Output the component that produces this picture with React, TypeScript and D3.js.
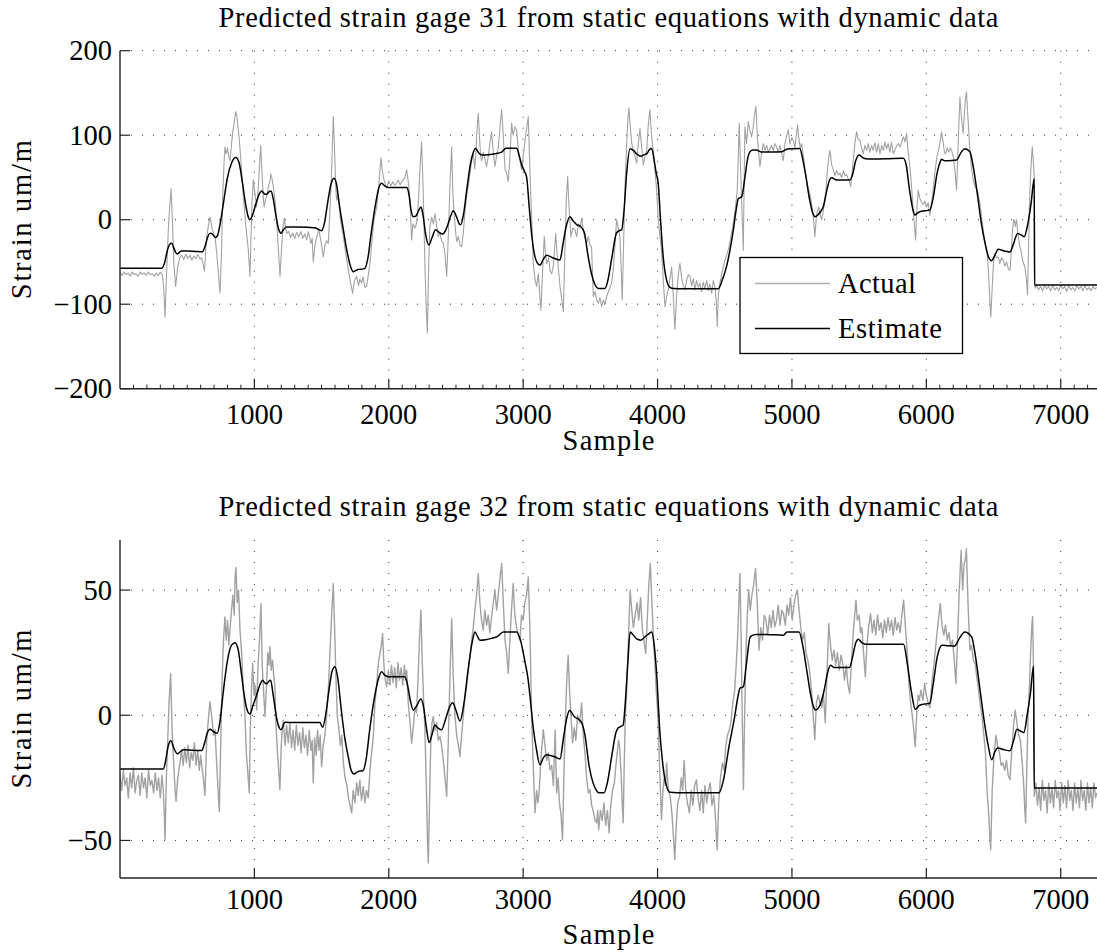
import React from "react";
import * as d3 from "d3";

// ---------- data ----------
const SAMPLE_DOMAIN: [number, number] = [0, 7270];
const X_TICKS = [1000, 2000, 3000, 4000, 5000, 6000, 7000];
const X_MINOR_TICKS = d3.range(100, 7270, 100).filter((v) => v % 1000 !== 0);

const TITLE_31 = "Predicted strain gage 31 from static equations with dynamic data";
const TITLE_32 = "Predicted strain gage 32 from static equations with dynamic data";
const Y_LABEL = "Strain um/m";
const X_LABEL = "Sample";
const LEGEND_LABELS = ["Actual", "Estimate"];

const Y_DOMAIN_31: [number, number] = [-200, 200];
const Y_TICKS_31 = [-200, -100, 0, 100, 200];
const Y_DOMAIN_32: [number, number] = [-65, 70];
const Y_TICKS_32 = [-50, 0, 50];

// gage 31 actual (sample, strain)
const ACTUAL_31: [number, number][] = [
[0,-63],[15,-66],[30,-62],[45,-65],[60,-63],[75,-67],[90,-62],[105,-65],[120,-64],[135,-67],[150,-62],[165,-65],[180,-63],[195,-66],[210,-62],[225,-65],[240,-64],[255,-67],[270,-63],[285,-66],[300,-62],[315,-65],
[325,-80],[335,-115],[345,-70],[360,-10],[372,20],[380,37],[390,0],[400,-50],[414,-79],[430,-55],[447,-44],
[460,-42],[475,-47],[490,-41],[505,-46],[520,-42],[535,-48],[550,-43],[565,-46],[580,-41],[595,-47],[608,-45],
[628,-61],[645,-20],[660,-5],[670,3],[685,-10],[700,-18],[707,-20],[720,-40],[735,-70],[744,-87],[755,-40],[765,30],[775,70],[781,86],[790,78],[800,85],[810,74],[819,70],[830,90],[840,105],[850,115],[861,128],[870,122],[878,110],[886,98],[900,70],[918,27],[935,-5],[955,-36],[967,-67],[975,-20],[982,20],[992,47],[1005,30],[1017,15],[1030,40],[1040,70],[1047,88],[1055,60],[1065,30],[1072,15],[1085,25],[1095,30],[1104,39],[1115,45],[1122,54],[1129,50],[1140,40],[1153,23],[1165,0],[1180,-40],[1191,-67],[1200,-40],[1212,-10],[1223,2],[1232,-10],[1240,-16],
[1255,-14],[1270,-21],[1285,-16],[1300,-22],[1315,-15],[1330,-20],[1345,-14],[1360,-22],[1375,-17],[1390,-24],[1400,-14],[1410,-20],[1420,-28],[1430,-22],[1438,-50],[1451,-30],[1465,-20],[1480,-12],[1495,-25],[1505,-36],[1513,-44],[1525,-30],[1538,-25],[1550,-28],[1562,10],[1575,60],[1587,122],[1595,90],[1605,40],[1612,23],[1625,30],[1640,0],[1662,-20],[1680,-40],[1695,-55],[1711,-71],[1722,-80],[1731,-87],[1745,-72],[1761,-67],[1775,-78],[1785,-70],[1798,-75],[1810,-68],[1822,-80],[1835,-79],[1848,-65],[1860,-52],[1875,-25],[1890,0],[1910,15],[1925,40],[1935,60],[1942,73],[1950,60],[1960,50],[1972,43],
[1985,38],[2000,46],[2015,40],[2030,45],[2045,41],[2058,43],[2070,47],[2085,41],[2095,45],[2108,47],[2120,50],[2133,59],[2145,45],[2158,23],[2170,-24],[2180,-5],[2195,-10],[2207,-4],[2220,20],[2232,60],[2244,92],[2255,40],[2262,-4],[2270,-60],[2280,-110],[2287,-134],[2296,-60],[2305,-10],[2319,3],[2332,-5],[2344,7],[2355,-5],[2368,-20],[2380,-15],[2393,-25],[2406,-28],[2418,-40],[2431,-67],[2443,-20],[2455,40],[2468,86],[2477,30],[2485,11],[2495,-10],[2505,-26],[2518,-20],[2530,-30],[2542,-32],[2555,-15],[2567,10],[2579,27],[2592,40],[2605,55],[2617,70],[2629,78],[2640,60],[2650,85],[2658,110],[2666,126],[2676,95],[2684,75],[2691,70],[2703,80],[2715,72],[2728,63],[2740,75],[2752,90],[2765,104],[2778,80],[2790,63],[2802,75],[2815,85],[2828,110],[2840,130],[2852,100],[2865,60],[2877,55],[2889,45],[2900,70],[2914,114],[2925,100],[2937,110],[2951,106],[2963,85],[2975,70],[2989,59],[3000,75],[3015,95],[3028,110],[3038,122],[3048,70],[3058,23],[3067,-15],[3075,-52],[3088,-70],[3100,-79],[3113,-64],[3122,-85],[3132,-107],[3145,-60],[3157,-20],[3166,-40],[3175,-52],[3190,-45],[3200,-60],[3212,-64],[3225,-55],[3242,-16],[3252,-40],[3261,-56],[3275,-80],[3288,-95],[3299,-109],[3310,-40],[3320,20],[3331,51],[3343,10],[3356,-20],[3370,-10],[3385,-12],[3398,-20],[3410,-5],[3423,-10],[3435,2],[3448,-15],[3460,-22],[3472,-28],[3485,-20],[3497,-30],[3509,-32],[3515,-60],[3522,-91],[3535,-85],[3547,-95],[3559,-99],[3571,-92],[3584,-103],[3596,-95],[3609,-100],[3621,-91],[3635,-85],[3647,-80],[3658,-75],[3670,-60],[3683,-30],[3695,0],[3708,-10],[3720,-20],[3730,-60],[3737,-95],[3747,-30],[3757,35],[3770,90],[3780,120],[3787,132],[3797,110],[3808,90],[3819,82],[3832,75],[3844,67],[3857,90],[3869,108],[3882,85],[3894,65],[3906,75],[3919,82],[3930,110],[3943,130],[3955,100],[3968,82],[3980,60],[3993,35],[4005,0],[4018,-20],[4030,-36],[4042,-70],[4055,-103],[4068,-90],[4080,-83],[4092,-70],[4105,-56],[4117,-90],[4129,-130],[4140,-95],[4149,-75],[4158,-60],[4167,-52],[4180,-70],[4192,-78],[4204,-83],[4216,-72],[4229,-65],[4241,-67],[4254,-78],[4266,-70],[4278,-83],[4290,-72],[4303,-80],[4315,-75],[4328,-85],[4340,-74],[4353,-82],[4365,-72],[4378,-84],[4390,-76],[4403,-87],[4415,-72],[4428,-80],[4436,-95],[4444,-126],[4452,-90],[4464,-75],[4476,-65],[4489,-56],[4501,-48],[4514,-42],[4526,-36],[4540,-25],[4552,-15],[4564,-4],[4576,10],[4587,25],[4593,35],[4600,70],[4608,114],[4616,70],[4626,20],[4633,-10],[4638,-36],[4644,40],[4650,110],[4662,90],[4675,116],[4688,105],[4700,98],[4712,110],[4722,125],[4732,134],[4742,100],[4752,80],[4762,63],[4775,80],[4787,90],[4800,82],[4812,88],[4824,80],[4836,84],[4848,88],[4861,82],[4874,90],[4886,86],[4898,80],[4911,88],[4924,78],[4936,70],[4948,90],[4961,100],[4973,106],[4985,90],[4998,97],[5010,94],[5022,85],[5033,100],[5042,112],[5052,95],[5062,85],[5072,90],[5085,75],[5097,60],[5109,47],[5121,38],[5134,30],[5146,19],[5158,5],[5171,-20],[5180,0],[5188,10],[5200,15],[5212,5],[5221,0],[5233,10],[5244,22],[5253,35],[5265,60],[5275,75],[5283,82],[5295,65],[5308,59],[5320,52],[5333,58],[5345,53],[5357,55],[5370,50],[5382,58],[5395,52],[5407,53],[5420,48],[5430,44],[5437,39],[5447,55],[5456,70],[5468,90],[5481,104],[5493,95],[5506,94],[5518,85],[5531,78],[5543,88],[5556,82],[5568,90],[5580,80],[5593,88],[5605,82],[5618,91],[5630,80],[5643,90],[5655,78],[5668,88],[5680,82],[5692,92],[5704,84],[5716,90],[5729,80],[5741,92],[5754,78],[5766,82],[5780,88],[5792,90],[5804,86],[5816,92],[5830,98],[5841,92],[5853,102],[5865,80],[5878,63],[5890,40],[5902,11],[5911,-5],[5920,-24],[5930,15],[5940,35],[5952,25],[5964,21],[5977,18],[5989,22],[6002,15],[6014,20],[6026,5],[6038,20],[6051,35],[6063,55],[6075,70],[6083,78],[6095,85],[6105,95],[6113,104],[6125,92],[6135,80],[6143,78],[6155,85],[6168,80],[6178,85],[6188,82],[6200,75],[6212,60],[6225,35],[6237,90],[6250,145],[6262,120],[6274,102],[6285,130],[6292,145],[6299,151],[6310,120],[6324,82],[6337,60],[6349,47],[6361,40],[6374,36],[6386,31],[6398,20],[6410,5],[6423,-12],[6435,-25],[6445,-35],[6455,-44],[6465,-70],[6472,-95],[6480,-115],[6490,-80],[6500,-50],[6510,-40],[6522,-45],[6535,-44],[6547,-52],[6560,-45],[6572,-48],[6584,-55],[6597,-50],[6610,-58],[6622,-60],[6632,-40],[6640,-15],[6648,0],[6654,0],[6662,-8],[6671,0],[6684,-20],[6696,-32],[6708,-40],[6720,-50],[6733,-56],[6745,-70],[6753,-89],[6760,-40],[6766,10],[6771,35],[6778,60],[6788,86],[6796,70],[6803,51],[6806,-20],[6808,-81],
[6820,-78],[6835,-83],[6850,-79],[6865,-84],[6880,-78],[6895,-82],[6910,-79],[6925,-84],[6940,-78],[6955,-83],[6970,-80],[6985,-84],[7000,-78],[7015,-82],[7030,-79],[7045,-85],[7060,-78],[7075,-83],[7090,-80],[7105,-84],[7120,-78],[7135,-82],[7150,-79],[7165,-84],[7180,-78],[7195,-83],[7210,-80],[7225,-84],[7240,-79],[7255,-82],[7268,-80]
];

// gage 31 estimate
const ESTIMATE_31: [number, number][] = [
[0,-57.5],[310,-57.5],[330,-52],[350,-38],[370,-29],[385,-28],[400,-33],[415,-39],[429,-40.5],[445,-38],[460,-37],[500,-37],[560,-37.5],[613,-38],[630,-33],[650,-22],[665,-16.5],[677,-16],[695,-18.5],[710,-21],[725,-19],[745,-5],[770,20],[800,50],[830,67],[861,73.5],[885,68],[910,45],[935,18],[955,3],[967,0],[985,5],[1010,18],[1035,30],[1054,34],[1072,31],[1091,30],[1108,33],[1124,34],[1140,25],[1160,5],[1180,-11],[1198,-16],[1215,-12],[1240,-8.5],[1300,-8.5],[1400,-9],[1451,-9.5],[1470,-11],[1500,-13],[1520,-5],[1545,20],[1570,42],[1592,49],[1610,43],[1630,20],[1660,-10],[1690,-38],[1715,-55],[1736,-61.5],[1755,-60],[1773,-58.8],[1800,-58.5],[1823,-57.5],[1845,-45],[1870,-15],[1900,17],[1925,37],[1947,43],[1970,40],[1997,38],[2060,38],[2133,38],[2150,30],[2165,12],[2183,3.5],[2200,4],[2225,12],[2240,15],[2255,5],[2275,-18],[2299,-30],[2320,-22],[2349,-12],[2375,-15],[2401,-17],[2430,-10],[2460,4],[2480,10.5],[2505,3],[2525,-5],[2535,-6],[2555,5],[2580,35],[2610,68],[2630,80],[2646,84.5],[2665,80],[2691,76.5],[2740,77],[2790,78],[2840,80],[2872,84.5],[2910,84.5],[2951,84.5],[2970,76],[2989,65],[3010,57],[3026,50],[3045,15],[3065,-20],[3088,-44],[3105,-51],[3125,-53.7],[3150,-47],[3175,-42],[3220,-45],[3274,-47.7],[3295,-30],[3320,-8],[3348,3.6],[3375,-2],[3400,-6],[3423,-7.5],[3455,-15],[3480,-40],[3510,-65],[3535,-77],[3559,-81.3],[3609,-81.3],[3630,-72],[3660,-45],[3695,-15.4],[3715,-13],[3733,-12],[3750,10],[3770,55],[3795,84],[3820,82],[3850,77],[3876,75.3],[3900,77],[3919,78],[3940,83],[3956,84.4],[3975,70],[3990,55],[4005,43],[4020,5],[4042,-44],[4065,-70],[4092,-80],[4120,-81.5],[4200,-81.7],[4300,-81.7],[4452,-81.7],[4480,-72],[4514,-55],[4540,-35],[4564,-12],[4585,12],[4601,25],[4626,27],[4650,50],[4670,72],[4688,80.5],[4710,82.5],[4737,82.4],[4774,80],[4850,80],[4923,80.5],[4945,82],[4965,83.6],[5000,84],[5059,84.4],[5080,72],[5105,50],[5130,25],[5155,8],[5171,3.5],[5195,6],[5215,10],[5233,15.4],[5260,35],[5280,47],[5295,49.7],[5332,47],[5431,47],[5450,53],[5475,70],[5501,76.5],[5530,73],[5568,71.8],[5700,72],[5828,72.6],[5850,65],[5875,35],[5900,12],[5915,5.5],[5935,8],[5952,9.5],[5990,10.5],[6026,11.4],[6050,25],[6080,55],[6100,67],[6113,71.4],[6138,69.8],[6190,70],[6225,70.6],[6260,80],[6287,84],[6324,80.5],[6350,62],[6380,30],[6410,-5],[6440,-30],[6465,-45],[6485,-48.5],[6510,-42],[6535,-35.1],[6580,-37],[6622,-38.3],[6650,-28],[6679,-16.2],[6705,-18],[6728,-20.1],[6755,-5],[6780,20],[6803,48.9],[6805,-77.3],[7270,-77.3]
];

// gage 32 actual
const ACTUAL_32: [number, number][] = [
[0,-24],[12,-30],[25,-22],[37,-28],[50,-25],[62,-33],[75,-23],[87,-29],[100,-21],[112,-31],[125,-26],[137,-24],[150,-32],[162,-23],[175,-29],[187,-25],[200,-33],[212,-22],[225,-28],[237,-26],[250,-31],[262,-23],[275,-30],[287,-25],[300,-33],[312,-24],[322,-30],
[330,-40],[335,-49.7],[345,-25],[355,-10],[365,5],[377,16.7],[387,-5],[400,-20],[410,-30],[417,-34.4],[430,-25],[446,-19],
[458,-14],[470,-20],[482,-13],[494,-19],[506,-12],[518,-21],[530,-15],[542,-18],[554,-11],[566,-20],[578,-14],[590,-22],[600,-16],[608,-20],[620,-25],[632,-32],[645,-10],[660,0],[670,5.4],[685,-2],[697,-8],[707,-5.8],[720,-20],[730,-30],[739,-38.4],[750,-10],[760,15],[770,30],[781,39.3],[790,30],[800,38],[810,28],[818,34],[830,42],[840,48],[850,40],[856,55],[863,59],[872,45],[882,50],[893,34],[905,25],[918,10],[930,-0.5],[940,-15],[950,-22],[962,-31],[970,-5],[978,10],[987,20.7],[997,8],[1007,12],[1017,2.1],[1027,20],[1038,30],[1049,44.6],[1058,20],[1068,10],[1079,-0.5],[1090,12],[1100,25],[1108,20],[1116,27.4],[1125,18],[1135,22],[1145,15],[1153,11.4],[1162,-5],[1172,-15],[1181,-22],[1190,-29.7],[1200,-12],[1208,-5],[1215,-2],
[1228,-12],[1240,-4],[1252,-11],[1264,-3],[1276,-13],[1288,-6],[1300,-14],[1312,-4],[1324,-12],[1336,-7],[1348,-15],[1360,-5],[1372,-13],[1384,-8],[1396,-16],[1408,-6],[1420,-14],[1430,-10],[1438,-27],[1448,-9],[1460,-16],[1470,-6],[1480,-14],[1490,-8],[1500,-20.5],[1512,-12],[1525,-8],[1537,-0.5],[1550,10],[1562,25],[1575,40],[1587,52.6],[1597,35],[1607,15],[1617,-0.5],[1628,-5],[1640,-12],[1650,-8],[1662,-19],[1675,-25],[1688,-28],[1700,-33],[1712,-36],[1724,-39],[1735,-30],[1748,-35],[1761,-27],[1773,-32],[1785,-26],[1797,-34],[1810,-28.4],[1822,-35],[1834,-30],[1847,-33],[1860,-22],[1872,-15],[1885,-8.5],[1897,5],[1910,12],[1922,20.7],[1935,25],[1945,28],[1954,32.7],[1964,20],[1974,14],[1984,11.4],
[1996,18],[2008,12],[2020,20],[2032,13],[2044,19],[2056,11],[2068,21],[2080,14],[2092,19],[2104,12],[2116,20],[2126,14],[2133,18],[2145,5],[2158,-3],[2170,-11.2],[2182,-5],[2195,3],[2207,1],[2218,15],[2228,30],[2239,42],[2250,20],[2260,5],[2269,-5.8],[2280,-30],[2288,-50],[2294,-59],[2303,-35],[2313,-10],[2322,-3],[2331,-0.5],[2343,-6],[2356,-3],[2368,-10],[2381,-8.5],[2393,-12],[2406,-18],[2418,-25],[2431,-32.4],[2443,-10],[2455,15],[2468,38.6],[2480,15],[2493,-0.5],[2505,-8],[2518,-12],[2530,-16.5],[2542,-8],[2555,0],[2567,7.5],[2580,12],[2592,18],[2604,23.4],[2617,30],[2629,35],[2641,42],[2653,48],[2666,56.6],[2678,45],[2690,38],[2703,34],[2715,42],[2728,36],[2740,40],[2752,33],[2765,39.3],[2778,45],[2790,50],[2802,42],[2815,48],[2828,55],[2840,60.6],[2852,45],[2865,30],[2877,25],[2889,16.7],[2901,30],[2913,42],[2926,52.6],[2938,40],[2951,35],[2963,32],[2976,30],[2988,40],[3000,38],[3013,45],[3025,48],[3038,55.2],[3050,35],[3063,-0.5],[3075,-20],[3088,-39],[3100,-30],[3110,-35],[3120,-29.7],[3135,-15],[3150,-5.8],[3162,-12],[3175,-18],[3187,-15],[3199,-21.8],[3212,-20],[3225,-28],[3238,-6],[3249,-31],[3260,-25],[3270,-35],[3282,-40],[3293,-49.7],[3305,-20],[3315,0],[3325,15],[3335,24],[3345,10],[3355,0],[3368,-11],[3380,-5],[3392,-10],[3405,0],[3420,-3],[3435,4.8],[3447,-8],[3460,-15],[3472,-25],[3485,-31],[3497,-29.7],[3510,-36],[3524,-39],[3535,-42],[3546,-43],[3555,-38],[3562,-45.7],[3575,-38],[3588,-42],[3601,-35],[3614,-44],[3627,-38],[3640,-47],[3652,-36],[3665,-30],[3679,-27],[3690,-20],[3700,-15],[3710,-10],[3718,-13],[3730,-25],[3737,-35],[3744,-43],[3752,-20],[3760,-0.5],[3770,10],[3783,30],[3796,50],[3808,42],[3820,35],[3835,40.6],[3848,45],[3860,38],[3874,47],[3886,35],[3898,30],[3912,24.7],[3925,40],[3935,52],[3946,60.6],[3958,45],[3970,30],[3977,24],[3990,10],[4003,-0.5],[4015,-20],[4029,-41.7],[4040,-30],[4050,-25],[4060,-28],[4068,-19],[4080,-30],[4094,-32.4],[4108,-40],[4120,-50],[4128,-57.6],[4138,-45],[4150,-35],[4164,-32.4],[4176,-25],[4187,-30],[4198,-18],[4210,-30],[4222,-35],[4237,-39],[4250,-30],[4263,-36],[4276,-28],[4289,-25.8],[4302,-33],[4315,-38],[4328,-30],[4340,-39],[4353,-28],[4366,-35],[4379,-30],[4392,-27],[4405,-36],[4418,-32],[4430,-40],[4438,-48],[4444,-53.7],[4455,-35],[4468,-25],[4483,-19],[4495,-22],[4508,-12],[4520,-8],[4535,-5.8],[4548,-2],[4560,5],[4574,10],[4585,20],[4595,30],[4605,45],[4613,56.6],[4622,30],[4630,0],[4639,-29.7],[4648,0],[4658,25],[4668,40],[4678,50],[4690,42],[4702,48],[4715,52],[4729,58.6],[4742,45],[4755,26],[4768,35],[4781,30],[4794,40],[4807,38],[4820,32],[4833,40],[4846,35],[4859,42],[4872,35.3],[4885,38],[4898,44],[4911,36],[4924,42],[4937,40.6],[4950,36],[4963,44],[4976,40],[4989,47],[5002,38],[5015,44],[5028,48],[5040,50],[5053,42],[5066,35],[5079,30],[5092,33],[5105,25],[5118,22],[5131,18],[5145,10],[5158,0],[5170,-9.8],[5182,5],[5195,8],[5209,5],[5222,3],[5235,8],[5248,-3],[5260,15],[5274,36.7],[5287,28],[5300,22],[5313,26],[5326,20],[5339,25],[5352,18],[5365,24],[5378,20.7],[5391,14],[5404,20],[5417,12],[5429,8.8],[5442,20],[5455,32],[5467,40],[5476,46],[5487,38],[5500,40],[5511,33],[5520,35],[5533,25],[5546,15.4],[5558,28],[5570,35],[5585,40.6],[5598,33],[5611,38],[5624,32],[5637,40],[5650,34],[5663,37],[5676,31],[5689,38],[5702,33],[5715,39],[5728,34],[5741,38],[5754,32],[5767,39],[5780,34],[5792,37],[5805,33],[5818,40],[5831,46],[5845,35],[5858,25],[5870,13],[5883,5],[5895,0],[5905,-5],[5917,-12.6],[5930,2],[5940,8],[5948,6],[5960,10],[5975,6],[5987,12.7],[6000,8],[6013,5],[6026,3],[6040,12],[6052,18],[6065,25],[6078,32],[6090,38],[6104,44.6],[6117,36],[6130,32],[6143,36],[6156,30],[6168,33],[6180,28],[6195,30],[6208,22],[6220,12.7],[6232,30],[6245,50],[6259,65.9],[6270,50],[6280,60],[6290,62],[6298,66.5],[6310,45],[6324,26],[6337,28],[6350,22],[6363,20.7],[6376,15],[6389,10],[6402,4],[6415,-0.5],[6428,-8],[6440,-15],[6453,-31],[6465,-40],[6472,-48],[6479,-53.7],[6490,-30],[6505,-15],[6518,-8],[6530,-12],[6544,-15],[6557,-20],[6570,-19],[6583,-22],[6596,-18],[6609,-24],[6622,-25.8],[6635,-15],[6648,-5],[6661,2.1],[6674,-3],[6687,-8],[6700,-10],[6712,-18],[6725,-28],[6733,-38],[6739,-43],[6748,-20],[6757,-0.5],[6766,10],[6776,25],[6784,35],[6791,39.4],[6797,20],[6803,-32.4],
[6815,-27],[6827,-36],[6839,-29],[6851,-38],[6863,-26],[6875,-34],[6887,-30],[6899,-39],[6911,-27],[6923,-35],[6935,-29],[6947,-37],[6959,-26],[6971,-33],[6983,-30],[6995,-38],[7007,-27],[7019,-35],[7031,-28],[7043,-37],[7055,-26],[7067,-34],[7079,-30],[7091,-38],[7103,-27],[7115,-35],[7127,-29],[7139,-37],[7151,-26],[7163,-34],[7175,-30],[7187,-38],[7199,-27],[7211,-35],[7223,-29],[7235,-37],[7247,-27],[7259,-33],[7268,-31]
];

// gage 32 estimate
const ESTIMATE_32: [number, number][] = [
[0,-21.5],[322,-21.5],[340,-18],[360,-12],[379,-10.2],[400,-13],[427,-15.4],[450,-14.5],[471,-13.8],[540,-14],[608,-14.1],[630,-11],[650,-7],[670,-5.6],[695,-6.5],[724,-7.2],[745,-2],[770,10],[800,22],[830,28],[856,29],[880,26],[905,16],[930,6],[950,1.5],[967,0.5],[990,4],[1017,8.1],[1040,12],[1061,14],[1076,13],[1091,12.5],[1106,13.5],[1121,14],[1140,8],[1165,-1],[1185,-5],[1198,-5.8],[1228,-2.8],[1300,-2.9],[1400,-2.9],[1488,-2.9],[1508,-4.8],[1530,0],[1555,10],[1580,18],[1600,19.4],[1620,15],[1645,3],[1670,-8],[1700,-17],[1720,-22],[1741,-23.5],[1770,-22.5],[1810,-22],[1830,-18],[1860,-5],[1890,6],[1920,14],[1947,17.4],[1970,16],[1996,15.4],[2060,15.4],[2120,15.4],[2140,12],[2160,6],[2182,2.1],[2210,4],[2239,6.5],[2260,3],[2280,-5],[2301,-10.9],[2320,-8],[2343,-3.9],[2365,-5],[2393,-5.8],[2420,-2],[2450,3],[2475,5],[2500,2],[2530,-2.3],[2560,5],[2590,18],[2620,29],[2641,33.3],[2660,31.5],[2678,30],[2720,30.2],[2765,30.7],[2810,31.5],[2852,33.3],[2951,33.3],[2980,30],[3013,21.4],[3035,15],[3050,8],[3075,-5],[3100,-14],[3125,-19.8],[3150,-17],[3174,-15.8],[3230,-16.5],[3274,-17.5],[3300,-9],[3325,-1],[3345,1.9],[3380,-0.5],[3430,-2.5],[3460,-8],[3490,-20],[3520,-27],[3545,-30],[3562,-31],[3601,-31],[3630,-26],[3660,-16],[3690,-7],[3705,-5.2],[3725,-4.5],[3744,-3.9],[3760,5],[3780,22],[3796,33.3],[3820,32],[3845,30.5],[3874,30],[3910,31.5],[3935,32.5],[3956,33.3],[3975,28],[3995,15],[4015,-5],[4040,-20],[4065,-28],[4094,-30.8],[4200,-31],[4457,-31],[4490,-26],[4530,-13],[4574,-0.5],[4600,8],[4613,10.8],[4639,11.4],[4660,20],[4690,31.3],[4729,32.3],[4830,32.2],[4937,32],[4963,33.3],[5053,33.3],[5080,28],[5110,18],[5140,8],[5160,3.5],[5175,2.1],[5209,4.1],[5240,10],[5265,17],[5287,20],[5313,19.1],[5429,19.1],[5450,23],[5475,29],[5494,30.4],[5520,29],[5546,28.4],[5700,28.4],[5831,28.4],[5860,20],[5890,9],[5917,2.4],[5950,4],[5987,4.5],[6026,4.8],[6050,12],[6080,23],[6117,28],[6160,27.8],[6207,27.6],[6250,31],[6285,33.3],[6337,31.3],[6370,22],[6400,10],[6430,-2],[6460,-12],[6487,-17.8],[6510,-14.5],[6531,-13.1],[6580,-13.8],[6622,-14.2],[6650,-10],[6674,-5.6],[6700,-6.3],[6726,-6.9],[6750,0],[6775,9],[6798,19.7],[6803,-29.1],[7270,-29.1]
];

// ---------- rendering ----------
const W = 1097;
const H = 952;
const LEFT = 120;
const RIGHT = 1097;
const FONT = "'Liberation Serif', 'Times New Roman', serif";
const FS = 28.5;
const GRAY = "#a2a2a2";

const fmt = (v: number) => (v < 0 ? "\u2212" + Math.abs(v) : String(v));

type PanelProps = {
  id: string;
  top: number;
  bottom: number;
  yDomain: [number, number];
  yTicks: number[];
  title: string;
  titleY: number;
  tickLabelY: number;
  xLabelY: number;
  actual: [number, number][];
  estimate: [number, number][];
  actualWidth: number;
  minorTicks: boolean;
  legend: boolean;
};

function Panel(p: PanelProps) {
  const x = d3.scaleLinear().domain(SAMPLE_DOMAIN).range([LEFT, RIGHT]);
  const y = d3.scaleLinear().domain(p.yDomain).range([p.bottom, p.top]);
  const actualLine = d3
    .line<[number, number]>()
    .x((d) => x(d[0]))
    .y((d) => y(d[1]));
  const estLine = d3
    .line<[number, number]>()
    .x((d) => x(d[0]))
    .y((d) => y(d[1]))
    .curve(d3.curveMonotoneX);
  const clipId = "clip-" + p.id;
  const gridDash = "1 10";
  return (
    <g>
      <defs>
        <clipPath id={clipId}>
          <rect x={LEFT} y={p.top} width={RIGHT - LEFT} height={p.bottom - p.top} />
        </clipPath>
      </defs>
      {/* grid */}
      {X_TICKS.map((t) => (
        <line key={"gx" + t} x1={x(t)} x2={x(t)} y1={p.top} y2={p.bottom}
          stroke="#333" strokeWidth={1} strokeDasharray={gridDash} />
      ))}
      {p.yTicks.filter((t) => y(t) < p.bottom - 1).map((t) => (
        <line key={"gy" + t} x1={LEFT} x2={RIGHT} y1={y(t)} y2={y(t)}
          stroke="#333" strokeWidth={1} strokeDasharray={gridDash} />
      ))}
      {/* data */}
      <g clipPath={`url(#${clipId})`}>
        <path d={actualLine(p.actual) || ""} fill="none" stroke={GRAY} strokeWidth={p.actualWidth} strokeLinejoin="round" />
        <path d={estLine(p.estimate) || ""} fill="none" stroke="#000" strokeWidth={1.5} />
      </g>
      {/* axes */}
      <line x1={LEFT} x2={LEFT} y1={p.top} y2={p.bottom} stroke="#222" strokeWidth={1.4} />
      <line x1={LEFT} x2={RIGHT} y1={p.bottom} y2={p.bottom} stroke="#222" strokeWidth={1.4} />
      {X_TICKS.map((t) => (
        <line key={"tx" + t} x1={x(t)} x2={x(t)} y1={p.bottom} y2={p.bottom - 10} stroke="#222" strokeWidth={1.2} />
      ))}
      {p.minorTicks && X_MINOR_TICKS.map((t) => (
        <line key={"mx" + t} x1={x(t)} x2={x(t)} y1={p.bottom} y2={p.bottom - 4} stroke="#222" strokeWidth={1} />
      ))}
      {p.yTicks.map((t) => (
        <line key={"ty" + t} x1={LEFT} x2={LEFT + 10} y1={y(t)} y2={y(t)} stroke="#222" strokeWidth={1.2} />
      ))}
      {/* tick labels */}
      {X_TICKS.map((t) => (
        <text key={"lx" + t} x={x(t)} y={p.tickLabelY} textAnchor="middle" fontFamily={FONT} fontSize={FS}>
          {fmt(t)}
        </text>
      ))}
      {p.yTicks.map((t) => (
        <text key={"ly" + t} x={LEFT - 8} y={y(t) + 9.5} textAnchor="end" fontFamily={FONT} fontSize={FS}>
          {fmt(t)}
        </text>
      ))}
      {/* labels */}
      <text x={(LEFT + RIGHT) / 2} y={p.titleY} textAnchor="middle" fontFamily={FONT} fontSize={FS}
        textLength={780} lengthAdjust="spacing">
        {p.title}
      </text>
      <text x={(LEFT + RIGHT) / 2} y={p.xLabelY} textAnchor="middle" fontFamily={FONT} fontSize={FS}
        textLength={92} lengthAdjust="spacing">
        {X_LABEL}
      </text>
      <text transform={`translate(31, ${(p.top + p.bottom) / 2}) rotate(-90)`} textAnchor="middle"
        fontFamily={FONT} fontSize={FS} textLength={159} lengthAdjust="spacing">
        {Y_LABEL}
      </text>
      {p.legend && (
        <g>
          <rect x={740} y={257.5} width={222.5} height={96} fill="#fff" stroke="#000" strokeWidth={1.3} />
          <line x1={755} x2={830} y1={283.5} y2={283.5} stroke="#b0b0b0" strokeWidth={1.5} />
          <line x1={755} x2={830} y1={328.5} y2={328.5} stroke="#000" strokeWidth={1.5} />
          <text x={838} y={293} fontFamily={FONT} fontSize={FS} textLength={78} lengthAdjust="spacing">
            {LEGEND_LABELS[0]}
          </text>
          <text x={838} y={337.5} fontFamily={FONT} fontSize={FS} textLength={104} lengthAdjust="spacing">
            {LEGEND_LABELS[1]}
          </text>
        </g>
      )}
    </g>
  );
}

export default function App() {
  return (
    <svg width={W} height={H} viewBox={`0 0 ${W} ${H}`}
      style={{ position: "absolute", left: 0, top: 0, background: "#fff" }}>
      <rect x={0} y={0} width={W} height={H} fill="#fff" />
      <Panel id="g31" top={50.7} bottom={388.7} yDomain={Y_DOMAIN_31} yTicks={Y_TICKS_31}
        title={TITLE_31} titleY={27} tickLabelY={423.5} xLabelY={450}
        actual={ACTUAL_31} estimate={ESTIMATE_31} actualWidth={1.1} minorTicks legend />
      <Panel id="g32" top={540} bottom={878} yDomain={Y_DOMAIN_32} yTicks={Y_TICKS_32}
        title={TITLE_32} titleY={516} tickLabelY={909} xLabelY={944}
        actual={ACTUAL_32} estimate={ESTIMATE_32} actualWidth={1.4} minorTicks={false} legend={false} />
    </svg>
  );
}
